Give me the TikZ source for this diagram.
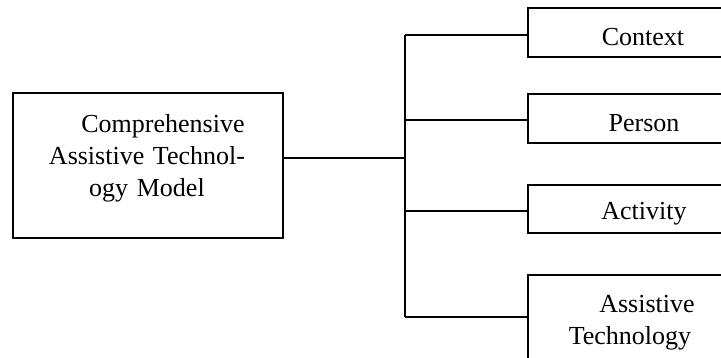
\documentclass[tikz,border=0pt]{standalone}
\usepackage{fontspec}
\setmainfont{Liberation Serif}
\begin{document}
\begin{tikzpicture}[x=1pt,y=-1pt,
  box/.style={draw, line width=1.25pt, rectangle, inner sep=0pt},
  conn/.style={line width=1.25pt},
  mainconn/.style={line width=2.3pt},
  txt/.style={font=\fontsize{26}{32}\selectfont, align=center, inner sep=0pt, text width=250pt}]
\useasboundingbox (0,0) rectangle (721,358);
\clip (0,0) rectangle (721,358);
% left box
\node[box, minimum width=270pt, minimum height=145pt] (model) at (148,165.5) {};
\node[txt] (modeltxt) at (147,158) {\hspace*{32pt}Comprehensive\\Assistive Technol-\\ogy Model};
% right boxes
\node[box, minimum width=230pt, minimum height=49pt] (ctx) at (643,32.5) {};
\node[txt] (ctxtxt) at (643,37) {Context};
\node[box, minimum width=230pt, minimum height=49pt] (per) at (643,118.5) {};
\node[txt] (pertxt) at (644,123) {Person};
\node[box, minimum width=230pt, minimum height=48pt] (act) at (643,209) {};
\node[txt] (acttxt) at (644,214) {Activity};
\node[box, minimum width=230pt, minimum height=95pt] (at) at (643,322.5) {};
\node[txt] (attxt) at (630,323) {\hspace*{34pt}Assistive\\Technology};
% connectors
\coordinate (j) at (405,158);
\coordinate (b1) at (405,35);
\coordinate (b2) at (405,120);
\coordinate (b3) at (405,211);
\coordinate (b4) at (405,317);
\draw[mainconn] (model.east |- j) -- (j);
\draw[conn] (b1) -- (b4);
\draw[conn] (b1) -- (b1 -| ctx.west);
\draw[conn] (b2) -- (b2 -| per.west);
\draw[conn] (b3) -- (b3 -| act.west);
\draw[conn] (b4) -- (b4 -| at.west);
\end{tikzpicture}
\end{document}
